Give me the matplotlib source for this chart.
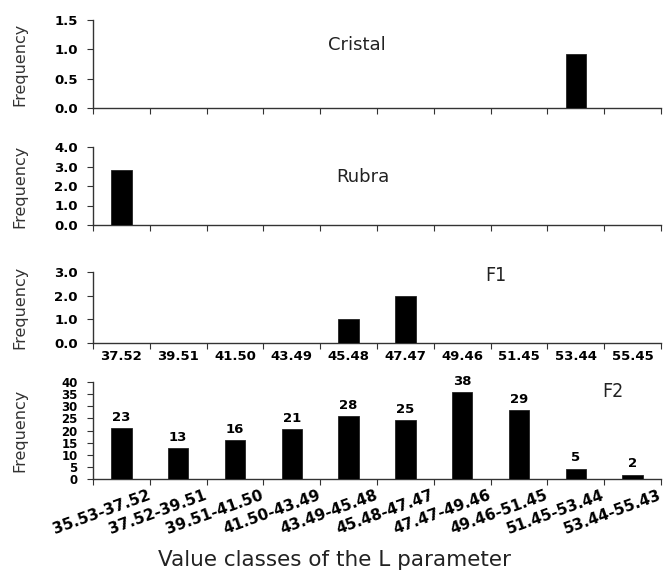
import matplotlib
matplotlib.use("Agg")
import matplotlib.pyplot as plt
import numpy as np

# ---- data ----
class_ends = ["37.52", "39.51", "41.50", "43.49", "45.48", "47.47", "49.46", "51.45", "53.44", "55.45"]
class_ranges = ["35.53-37.52", "37.52-39.51", "39.51-41.50", "41.50-43.49", "43.49-45.48",
                "45.48-47.47", "47.47-49.46", "49.46-51.45", "51.45-53.44", "53.44-55.43"]
cristal = [0, 0, 0, 0, 0, 0, 0, 0, 0.92, 0]
rubra = [2.8, 0, 0, 0, 0, 0, 0, 0, 0, 0]
f1 = [0, 0, 0, 0, 1, 2, 0, 0, 0, 0]
f2_heights = [21, 12.7, 15.9, 20.5, 25.8, 24.4, 35.8, 28.4, 4.3, 1.8]
f2_labels = ["23", "13", "16", "21", "28", "25", "38", "29", "5", "2"]

W, H = 667, 576
fig = plt.figure(figsize=(W / 100, H / 100), dpi=100)

left, right = 93, 661
def add_ax(top, bottom):
    return fig.add_axes([left / W, 1 - bottom / H, (right - left) / W, (bottom - top) / H])

panels = [
    (20, 108, cristal, "Cristal", (0, 1.5, 0.5), "{:.1f}"),
    (147, 225, rubra, "Rubra", (0, 4.0, 1.0), "{:.1f}"),
    (272, 343, f1, "F1", (0, 3.0, 1.0), "{:.1f}"),
    (382, 479, f2_heights, "F2", (0, 40, 5), "{:d}"),
]
title_pos = [(4.15, 1.07), (4.25, 2.45), (6.6, 2.85), (8.65, 36)]

x = np.arange(10)
axes = []
for i, (top, bot, vals, name, (y0, y1, st), fmt) in enumerate(panels):
    ax = add_ax(top, bot)
    axes.append(ax)
    ax.bar(x, vals, width=0.36, color="black", edgecolor="#222222", linewidth=0.6, zorder=3)
    ax.set_xlim(-0.5, 9.5)
    ax.set_ylim(y0, y1)
    for s in ["top", "right"]:
        ax.spines[s].set_visible(False)
    for s in ["left", "bottom"]:
        ax.spines[s].set_color("#333333")
        ax.spines[s].set_linewidth(1.0)
    ticks = np.arange(y0, y1 + st / 2, st)
    ax.set_yticks(ticks)
    if i < 3:
        ax.set_yticklabels([fmt.format(t) for t in ticks], fontsize=9.5, fontweight="bold")
    else:
        ax.set_yticklabels([fmt.format(int(t)) for t in ticks], fontsize=8.5, fontweight="bold")
    ax.set_xticks(np.arange(-0.5, 10, 1))
    ax.set_xticklabels([])
    ax.tick_params(axis="x", which="major", length=4, width=0.8, color="#333333", pad=2)
    ax.tick_params(axis="y", which="major", length=4, width=0.8, color="#333333", pad=7)
    ax.set_ylabel("Frequency", fontsize=11.5, color="#333333")
    tx, ty = title_pos[i]
    ax.text(tx, ty, name, fontsize=13 if i < 2 else 14, color="#222222", ha="center", va="center",
            fontstretch="condensed" if i >= 2 else "normal")

# F1 tick labels at centers
ax3 = axes[2]
ax3.set_xticks(x, minor=True)
ax3.set_xticklabels(class_ends, minor=True, fontsize=9.5, fontweight="bold")
ax3.tick_params(axis="x", which="minor", length=0, pad=5)

# F2
ax4 = axes[3]
for xi, h, lab in zip(x, f2_heights, f2_labels):
    ax4.annotate(lab, (xi, h), xytext=(0, 3), textcoords="offset points",
                 ha="center", va="bottom", fontsize=9.5, fontweight="bold")
ax4.set_xticks(x + 0.45, minor=True)
ax4.set_xticklabels(class_ranges, minor=True, fontsize=11, fontweight="bold",
                    rotation=20, ha="right", va="top", rotation_mode="anchor")
ax4.tick_params(axis="x", which="minor", length=0, pad=6)

# align y labels
for ax in axes:
    ax.yaxis.set_label_coords(-0.116, 0.5)

fig.text(334 / W, 1 - 560 / H, "Value classes of the L parameter", fontsize=15.5,
         color="#222222", ha="center", va="center")

fig.savefig("out.png", dpi=100)
